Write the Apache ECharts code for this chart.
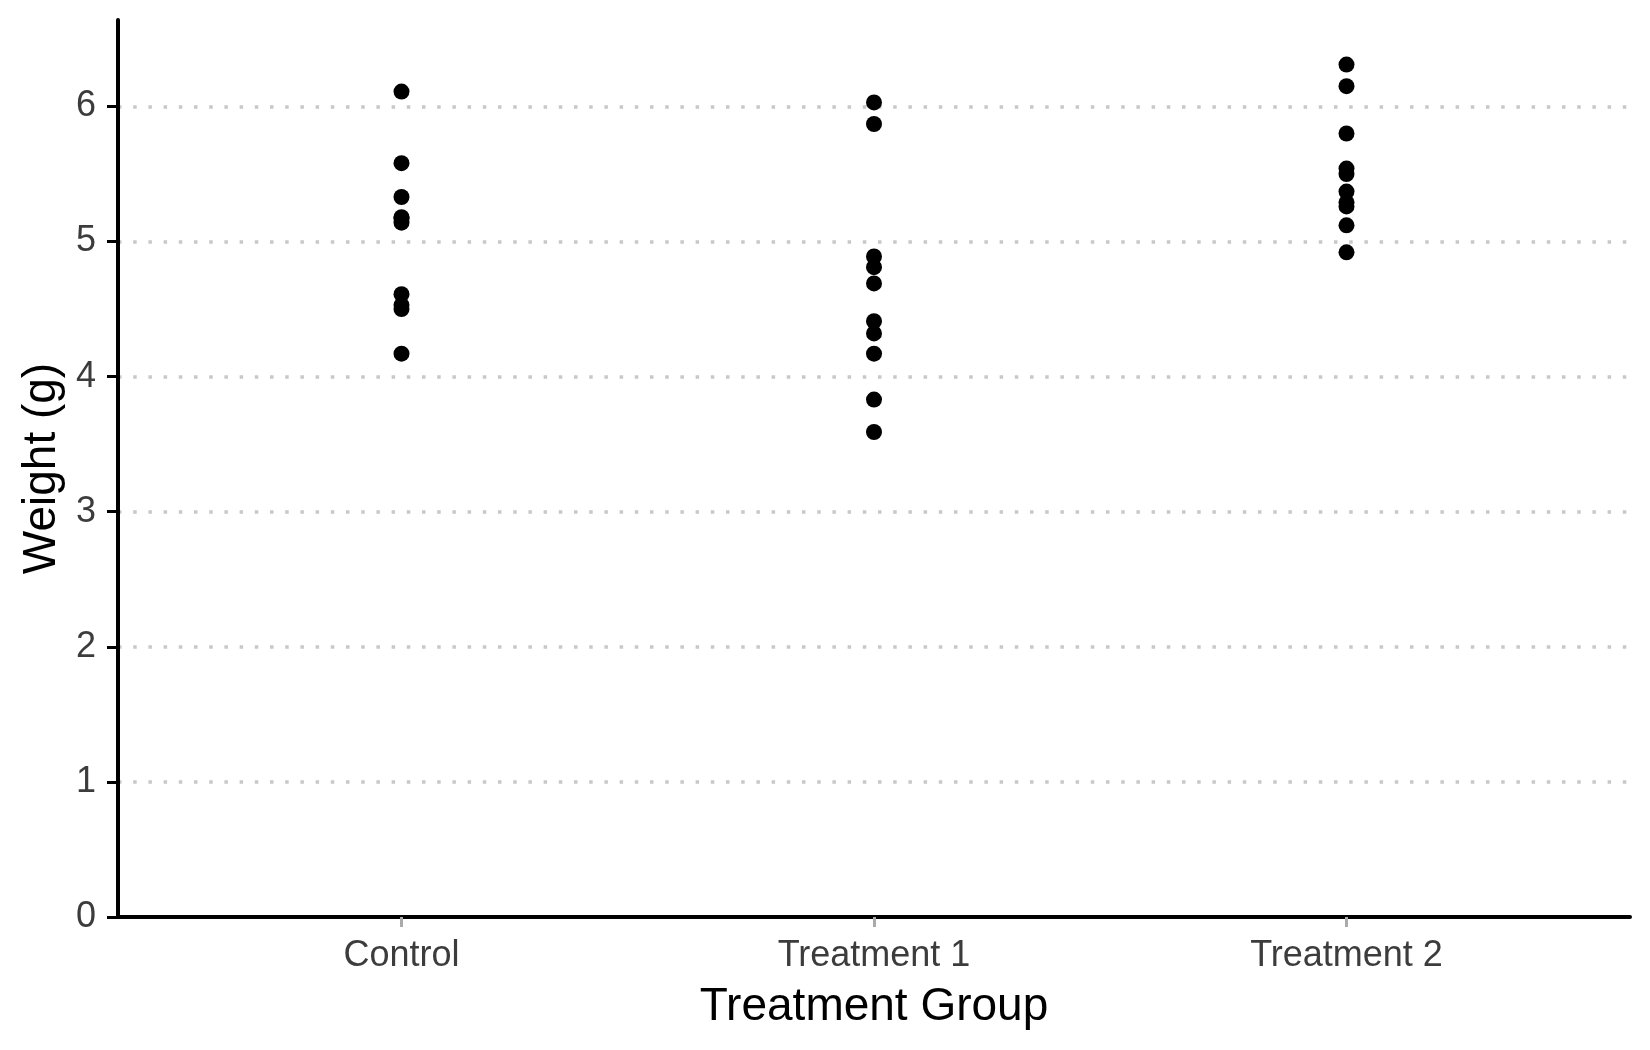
<!DOCTYPE html>
<html>
<head>
<meta charset="utf-8">
<script src="https://cdn.jsdelivr.net/npm/echarts@6/dist/echarts.min.js"></script>
<style>
html,body{margin:0;padding:0;background:#fff;}
#chart{width:1650px;height:1050px;}
</style>
</head>
<body>
<div id="chart"></div>
<script>
// Data (PlantGrowth-style weights)
const categories = ['Control', 'Treatment 1', 'Treatment 2'];
const controlWeights = [4.17, 5.58, 5.18, 6.11, 4.50, 4.61, 5.17, 4.53, 5.33, 5.14];
const treatment1Weights = [4.81, 4.17, 4.41, 3.59, 5.87, 3.83, 6.03, 4.89, 4.32, 4.69];
const treatment2Weights = [6.31, 5.12, 5.54, 5.50, 5.37, 5.29, 4.92, 6.15, 5.80, 5.26];
const yTicks = [0, 1, 2, 3, 4, 5, 6];

const groups = [controlWeights, treatment1Weights, treatment2Weights];
const points = [];
groups.forEach((arr, i) => arr.forEach(v => points.push([i + 1, v])));

const chart = echarts.init(document.getElementById('chart'), null, {renderer: 'canvas'});
const labelFont = 'Liberation Sans, Arial, sans-serif';
chart.setOption({
  animation: false,
  backgroundColor: '#ffffff',
  grid: {left: 118, right: 20, top: 20, bottom: 133, containLabel: false},
  xAxis: {
    type: 'value',
    min: 0.4,
    max: 3.6,
    name: 'Treatment Group',
    nameLocation: 'middle',
    nameGap: 67,
    nameTextStyle: {fontFamily: labelFont, fontSize: 46, color: '#000000'},
    axisLine: {show: true, onZero: false, lineStyle: {color: '#000000', width: 4}},
    axisTick: {show: true, customValues: [1, 2, 3], length: 10, lineStyle: {color: '#aaaaaa', width: 3}},
    axisLabel: {
      customValues: [1, 2, 3],
      margin: 21,
      fontFamily: labelFont,
      fontSize: 36,
      color: '#3c3c3c',
      formatter: v => categories[Math.round(v) - 1] || ''
    },
    splitLine: {show: false}
  },
  yAxis: {
    type: 'value',
    min: 0,
    max: 6.64,
    interval: 1,
    name: 'Weight (g)',
    nameLocation: 'middle',
    nameGap: 52,
    nameTextStyle: {fontFamily: labelFont, fontSize: 46, color: '#000000'},
    axisLine: {show: true, lineStyle: {color: '#000000', width: 4}},
    axisTick: {show: true, customValues: yTicks, length: 11, lineStyle: {color: '#000000', width: 3}},
    axisLabel: {
      customValues: yTicks,
      margin: 22,
      fontFamily: labelFont,
      fontSize: 36,
      color: '#3c3c3c'
    },
    splitLine: {
      show: true,
      showMinLine: false,
      showMaxLine: true,
      lineStyle: {color: '#c8c8c8', width: 3.5, type: [3.5, 11.7]}
    }
  },
  series: [{
    type: 'scatter',
    data: points,
    symbol: 'circle',
    symbolSize: 16,
    itemStyle: {color: '#000000', opacity: 1},
    emphasis: {disabled: true}
  }]
});
</script>
</body>
</html>
